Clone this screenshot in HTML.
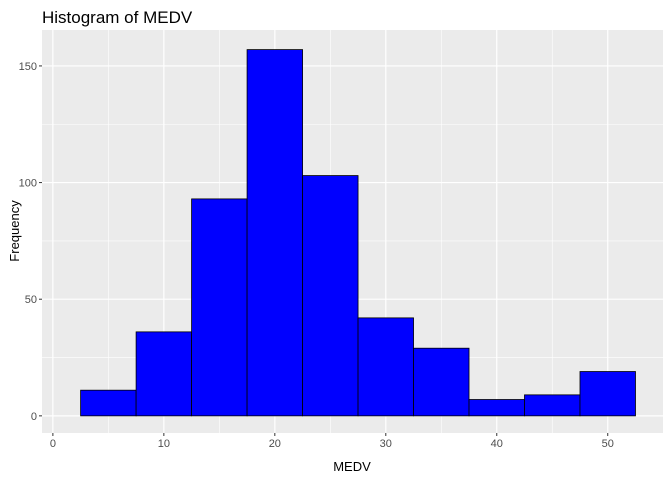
<!DOCTYPE html>
<html><head><meta charset="utf-8"><style>
body{margin:0;background:#fff;font-family:"Liberation Sans",Arial,sans-serif}
</style></head><body>
<svg id="chart" width="672" height="480" xmlns="http://www.w3.org/2000/svg">
<rect width="672" height="480" fill="#fff"/>
<text x="42" y="23" font-size="17" fill="#000">Histogram of MEDV</text>
<rect x="42" y="30" width="621" height="403" fill="#ebebeb"/>
<g id="grid"></g>
<g id="bars"></g>
<g id="axes"></g>
<text x="352" y="471" font-size="13" text-anchor="middle" fill="#000">MEDV</text>
<text transform="translate(19,231) rotate(-90)" font-size="13" text-anchor="middle" fill="#000">Frequency</text>
</svg>
<script>
const binStarts=[2.5,7.5,12.5,17.5,22.5,27.5,32.5,37.5,42.5,47.5];
const binWidth=5;
const counts=[11,36,93,157,103,42,29,7,9,19];
const xTicks=[0,10,20,30,40,50];
const yTicks=[0,50,100,150];
const xMinor=[5,15,25,35,45,55];
const yMinor=[25,75,125];
const NS="http://www.w3.org/2000/svg";
const X0=42,X1=663,Y0=433,Y1=30;
const xmin=-0.98,xmax=54.98,ymin=-7.35,ymax=165.4;
const sx=v=>X0+(v-xmin)/(xmax-xmin)*(X1-X0);
const sy=v=>Y0-(v-ymin)/(ymax-ymin)*(Y0-Y1);
function mk(t,a,p){const e=document.createElementNS(NS,t);for(const k in a)e.setAttribute(k,a[k]);p.appendChild(e);return e;}
const grid=document.getElementById('grid'),bars=document.getElementById('bars'),axes=document.getElementById('axes');
xMinor.forEach(v=>{if(sx(v)<X1){const l=mk('line',{x1:sx(v),x2:sx(v),y1:Y1,y2:Y0,stroke:'#fff','stroke-width':0.6},grid);

}});
yMinor.forEach(v=>{const l=mk('line',{x1:X0,x2:X1,y1:sy(v),y2:sy(v),stroke:'#fff','stroke-width':0.6},grid);

});
xTicks.forEach(v=>{const l=mk('line',{x1:sx(v),x2:sx(v),y1:Y1,y2:Y0,stroke:'#fff','stroke-width':1.2},grid);


const t=mk('line',{x1:sx(v),x2:sx(v),y1:Y0,y2:Y0+3,stroke:'#333','stroke-width':1},axes);


const tx=mk('text',{x:sx(v),y:Y0+14,'font-size':11,'text-anchor':'middle',fill:'#4d4d4d'},axes);tx.textContent=v;

});
yTicks.forEach(v=>{const l=mk('line',{x1:X0,x2:X1,y1:sy(v),y2:sy(v),stroke:'#fff','stroke-width':1.2},grid);


const t=mk('line',{x1:X0-3,x2:X0,y1:sy(v),y2:sy(v),stroke:'#333','stroke-width':1},axes);


const tx=mk('text',{x:X0-5,y:sy(v)+4,'font-size':11,'text-anchor':'end',fill:'#4d4d4d'},axes);tx.textContent=v;

});
counts.forEach((c,i)=>{const x=sx(binStarts[i]),x2=sx(binStarts[i]+binWidth);
const r=mk('rect',{x:x,y:sy(c),width:x2-x,height:sy(0)-sy(c),fill:'#0000ff',stroke:'#000','stroke-width':0.8},bars);

});
</script>
</body></html>
